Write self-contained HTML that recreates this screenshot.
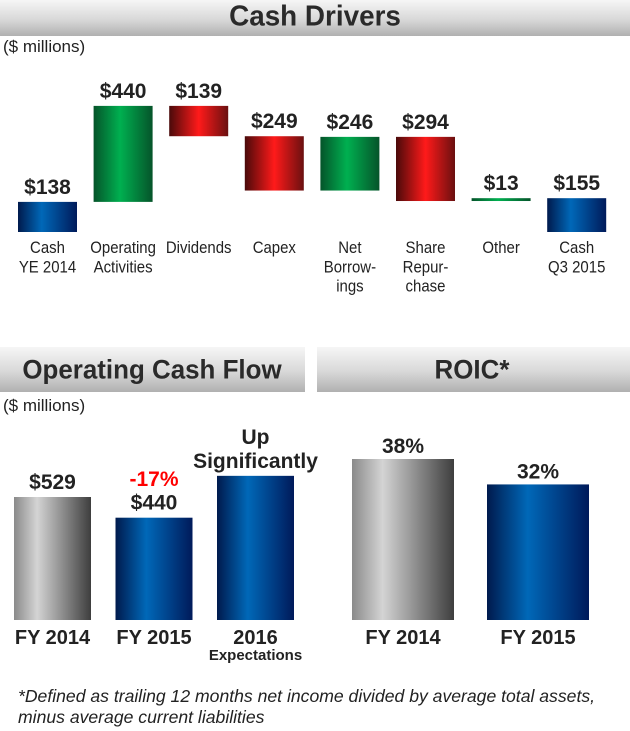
<!DOCTYPE html>
<html><head><meta charset="utf-8"><style>
body{margin:0;width:630px;height:731px;background:#fff;overflow:hidden;font-family:"Liberation Sans",Arial,sans-serif;position:relative}
.hdr{position:absolute;background:linear-gradient(#f6f6f6,#d8d8d8 55%,#b0b0b0);color:#2a2a2a;font-weight:bold}
.hdr span{position:absolute;left:50%;top:50%;transform:translate(-50%,-50%) scaleX(0.96);white-space:nowrap}
.t{position:absolute;white-space:nowrap}
svg{position:absolute;left:0;top:0}
</style></head><body>
<div class="hdr" style="left:0;top:0;width:630px;height:36px;font-size:29px"><span style="top:46%">Cash Drivers</span></div>
<div class="t" style="left:3px;top:37px;font-size:17px;color:#222">($ millions)</div>
<div class="hdr" style="left:0;top:347px;width:305px;height:45px;font-size:27px"><span style="left:152px">Operating Cash Flow</span></div>
<div class="hdr" style="left:317px;top:347px;width:313px;height:45px;font-size:27px"><span style="left:155px">ROIC*</span></div>
<div class="t" style="left:3px;top:396px;font-size:17px;color:#222">($ millions)</div>
<div class="t" style="left:18px;top:686px;font-size:17.6px;font-style:italic;color:#222;line-height:21px">*Defined as trailing 12 months net income divided by average total assets,<br>minus average current liabilities</div>
<svg width="630" height="731" id="chart">
<defs>
<linearGradient id="gBlue" x1="0" x2="1"><stop offset="0" stop-color="#001a4d"/><stop offset="0.4" stop-color="#0068b8"/><stop offset="1" stop-color="#001a5a"/></linearGradient>
<linearGradient id="gGreen" x1="0" x2="1"><stop offset="0" stop-color="#05542a"/><stop offset="0.45" stop-color="#00b050"/><stop offset="1" stop-color="#05542a"/></linearGradient>
<linearGradient id="gRed" x1="0" x2="1"><stop offset="0" stop-color="#4a0a0a"/><stop offset="0.5" stop-color="#ff1a1a"/><stop offset="1" stop-color="#6a1010"/></linearGradient>
<linearGradient id="gGray" x1="0" x2="1"><stop offset="0" stop-color="#8a8a8a"/><stop offset="0.3" stop-color="#d4d4d4"/><stop offset="1" stop-color="#3e3e3e"/></linearGradient>
</defs>
</svg>
<script>
const wfCats=[["Cash","YE 2014"],["Operating","Activities"],["Dividends"],["Capex"],["Net","Borrow-","ings"],["Share","Repur-","chase"],["Other"],["Cash","Q3 2015"]];
const wfValues=[138,440,-139,-249,246,-294,13,155];
const wfTypes=["total","delta","delta","delta","delta","delta","delta","total"];
const wfLabels=["$138","$440","$139","$249","$246","$294","$13","$155"];
const ocfCats=["FY 2014","FY 2015","2016"];
const ocfValues=[529,440,620];
const ocfLabels=["$529","$440","Up|Significantly"];
const roicCats=["FY 2014","FY 2015"];
const roicValues=[38,32];
const roicLabels=["38%","32%"];
const NS="http://www.w3.org/2000/svg";
const svg=document.getElementById('chart');
function mk(tag,attrs,txt){const e=document.createElementNS(NS,tag);for(const k in attrs)e.setAttribute(k,attrs[k]);if(txt!=null)e.textContent=txt;svg.appendChild(e);return e;}
function txt(cx,y,s,size,bold,fill,sx){return mk('text',{x:0,y:0,transform:'translate('+cx+','+y+') scale('+(sx||1)+',1)','text-anchor':'middle','font-size':size,'font-weight':bold?'bold':'normal',fill:fill||'#222'},s);}
// waterfall
const wfBase=232,wfScale=96/440,wfX=i=>18+i*75.6,wfW=59;
const wy=v=>wfBase-v*wfScale;
let run=0;
wfValues.forEach((v,i)=>{
 let a,b,fill;
 if(wfTypes[i]==="total"){a=0;b=v;run=v;fill="url(#gBlue)";}
 else{a=run;b=run+v;run=b;fill=v>=0?"url(#gGreen)":"url(#gRed)";}
 const top=wy(Math.max(a,b)),h=Math.max(Math.abs(wy(a)-wy(b)),2.5);
 const r=mk('rect',{x:wfX(i),y:top,width:wfW,height:h,fill:fill});
 
 
 const t=txt(wfX(i)+wfW/2,top-8,wfLabels[i],21,true);
 
 
 wfCats[i].forEach((ln,j)=>{
  const c=txt(wfX(i)+wfW/2,253+j*19.3,ln,17,false,null,0.88);
  
  
 });
});
// OCF
const base2=620,ocfScale=123/529,ocfX=i=>14+i*101.5,ocfW=77;
ocfValues.forEach((v,i)=>{
 const top=base2-v*ocfScale;
 const r=mk('rect',{x:ocfX(i),y:top,width:ocfW,height:v*ocfScale,fill:i===0?"url(#gGray)":"url(#gBlue)"});
 
 
 const lines=ocfLabels[i].split('|');
 lines.forEach((ln,j)=>{
  const t=txt(ocfX(i)+ocfW/2,top-8-(lines.length-1-j)*24,ln,21,true);
  
  
 });
 const c=txt(ocfX(i)+ocfW/2,644,ocfCats[i],20,true);
 
 
});
const pct=txt(ocfX(1)+ocfW/2,486,"-17%",21,true,'#ff0000');


const ex2=txt(ocfX(2)+ocfW/2,660,"Expectations",15,true);


// ROIC
const rScale=161/38,rX=i=>352+i*135,rW=102;
roicValues.forEach((v,i)=>{
 const top=base2-v*rScale;
 const r=mk('rect',{x:rX(i),y:top,width:rW,height:v*rScale,fill:i===0?"url(#gGray)":"url(#gBlue)"});
 
 
 const t=txt(rX(i)+rW/2,top-6,roicLabels[i],21,true);
 
 
 const c=txt(rX(i)+rW/2,644,roicCats[i],20,true);
 
 
});
</script>
</body></html>
